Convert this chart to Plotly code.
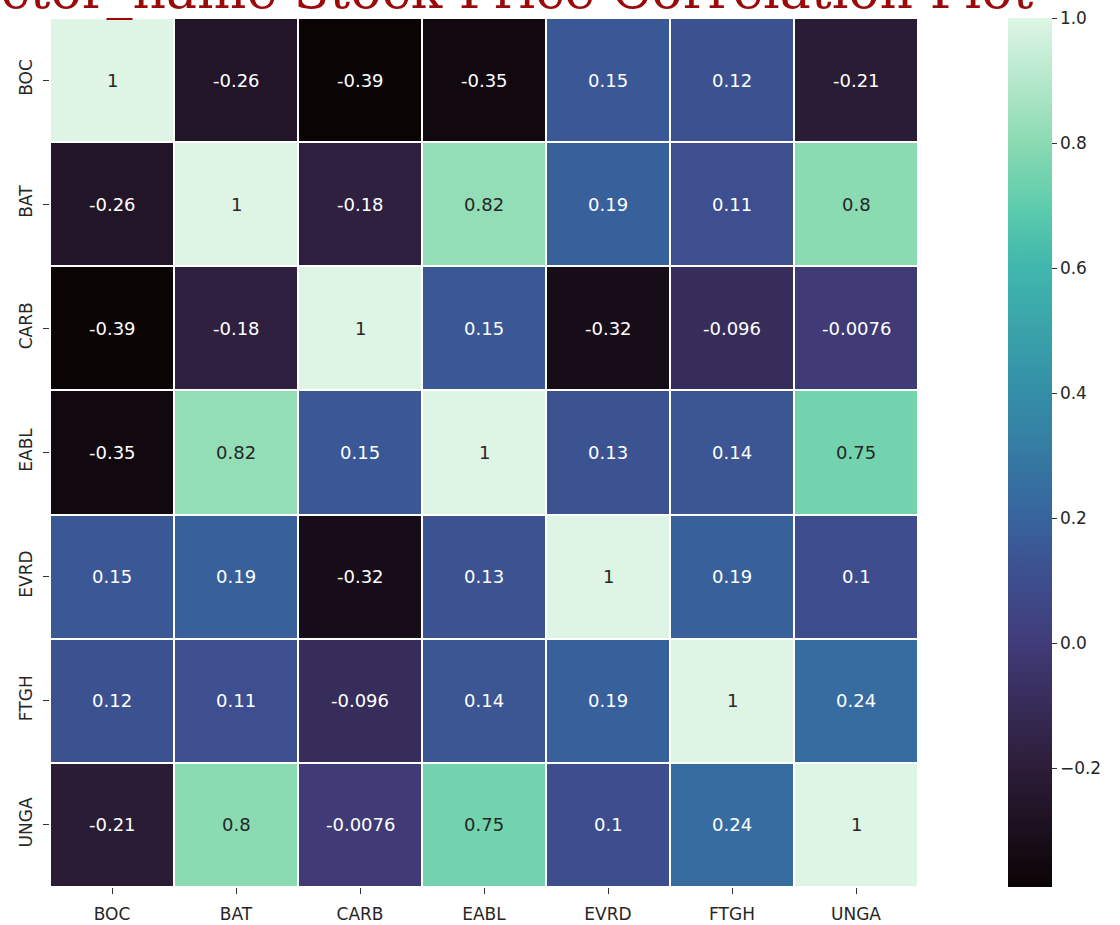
import plotly.graph_objects as go

labels = ["BOC", "BAT", "CARB", "EABL", "EVRD", "FTGH", "UNGA"]

corr = [
    [1.0, -0.26, -0.39, -0.35, 0.15, 0.12, -0.21],
    [-0.26, 1.0, -0.18, 0.82, 0.19, 0.11, 0.8],
    [-0.39, -0.18, 1.0, 0.15, -0.32, -0.096, -0.0076],
    [-0.35, 0.82, 0.15, 1.0, 0.13, 0.14, 0.75],
    [0.15, 0.19, -0.32, 0.13, 1.0, 0.19, 0.1],
    [0.12, 0.11, -0.096, 0.14, 0.19, 1.0, 0.24],
    [-0.21, 0.8, -0.0076, 0.75, 0.1, 0.24, 1.0],
]

cbar_ticks = [-0.2, 0.0, 0.2, 0.4, 0.6, 0.8, 1.0]
title_text = "Sector_name Stock Price Correlation Plot"

# approximation of seaborn "mako"
mako = [
    [0.0, "#0B0405"],
    [0.143, "#2E1E3B"],
    [0.286, "#413D7B"],
    [0.357, "#3D4E8E"],
    [0.429, "#37659E"],
    [0.571, "#348FA7"],
    [0.714, "#40B7AD"],
    [0.786, "#5FCDAD"],
    [0.857, "#8BDAB2"],
    [1.0, "#DEF5E5"],
]

zmin = min(min(r) for r in corr)
zmax = 1.0

fig = go.Figure()
fig.add_trace(go.Heatmap(
    z=corr, x=labels, y=labels,
    colorscale=mako, zmin=zmin, zmax=zmax,
    xgap=2, ygap=2,
    hoverinfo="skip",
    colorbar=dict(
        x=1.1037, xanchor="left", xpad=0, ypad=0,
        y=0.5, yanchor="middle", len=869, lenmode="pixels",
        thickness=44, outlinewidth=0,
        tickvals=cbar_ticks, tickformat=".1f",
        ticks="outside", ticklen=5, tickcolor="#333333",
        tickfont=dict(family="DejaVu Sans", size=17, color="#262626"),
    ),
))

for i, row in enumerate(corr):
    for j, v in enumerate(row):
        fig.add_annotation(
            x=labels[j], y=labels[i], xref="x", yref="y",
            text=format(v, ".2g"), showarrow=False,
            font=dict(family="DejaVu Sans", size=18,
                      color="#262626" if v > 0.5 else "#ffffff"),
        )

fig.add_annotation(
    x=0.5, xref="paper", y=0.9954, yref="paper",
    xanchor="center", yanchor="bottom",
    text=title_text, showarrow=False,
    font=dict(family="DejaVu Serif", size=52, color="#9B0A0A"),
)

fig.update_layout(
    width=1120, height=925,
    margin=dict(l=50, r=202, t=18, b=38, autoexpand=False),
    paper_bgcolor="white", plot_bgcolor="white",
    xaxis=dict(showgrid=False, zeroline=False, ticks="outside", ticklen=6,
               tickcolor="#333333", ticklabelstandoff=6, automargin=False,
               tickfont=dict(family="DejaVu Sans", size=17, color="#262626")),
    yaxis=dict(showgrid=False, zeroline=False, autorange="reversed",
               ticks="outside", ticklen=6, tickcolor="#333333", tickangle=-90,
               ticklabelstandoff=4, automargin=False,
               tickfont=dict(family="DejaVu Sans", size=17, color="#262626")),
)

fig.write_html("out.html", config={"displayModeBar": False},
               post_script="document.body.style.margin='0';")
